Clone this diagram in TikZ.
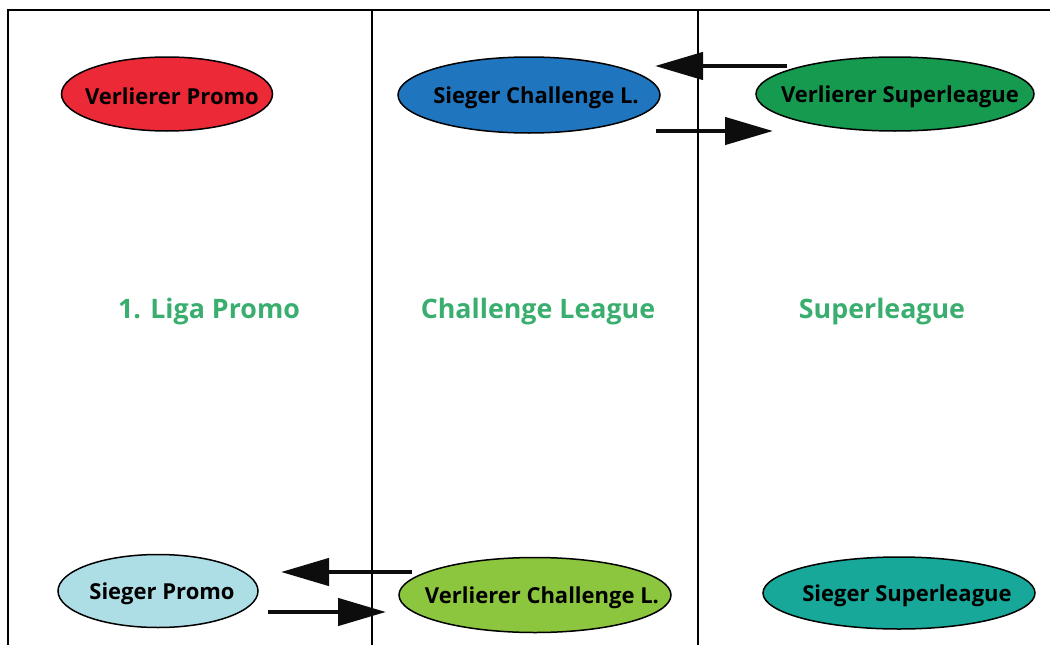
\documentclass[tikz,border=0pt]{standalone}
\usepackage{fontspec}
\setmainfont{Open Sans}
\usetikzlibrary{arrows.meta,shapes.geometric}
\definecolor{cRed}{RGB}{236,41,55}
\definecolor{cBlue}{RGB}{31,117,190}
\definecolor{cGreen}{RGB}{22,154,80}
\definecolor{cLight}{RGB}{173,221,229}
\definecolor{cLime}{RGB}{140,198,63}
\definecolor{cTeal}{RGB}{23,168,154}
\definecolor{cHead}{RGB}{58,174,111}
\tikzset{
  oval/.style={ellipse, draw=black, line width=1.5pt, inner sep=0pt},
  ovaltext/.style={font=\fontsize{22}{26}\selectfont\bfseries, text=black, inner sep=0pt, yshift=-2.5pt},
  heading/.style={font=\fontsize{26.8}{31}\selectfont\bfseries, text=cHead},
  frame/.style={line width=2pt, draw=black},
  bigarrow/.style={line width=4.5pt, -{Triangle[length=48pt,width=27pt]}, color=black!95}
}
\begin{document}
\begin{tikzpicture}[x=1pt,y=-1pt]
\useasboundingbox (0,0) rectangle (1050,645);
% frame
\draw[frame] (8,645) -- (8,10) -- (1050,10);
\draw[frame] (372,10) -- (372,645);
\draw[frame] (698,10) -- (698,645);
% ellipses
\node[oval, fill=cRed, minimum width=211pt, minimum height=74pt,
  label={[ovaltext, xshift=5pt]center:Verlierer Promo}] (vp) at (167,94) {};
\node[oval, fill=cBlue, minimum width=262pt, minimum height=76pt,
  label={[ovaltext, xshift=7pt]center:Sieger Challenge L.}] (scl) at (529,95) {};
\node[oval, fill=cGreen, minimum width=278pt, minimum height=74pt,
  label={[ovaltext, xshift=5pt]center:Verlierer Superleague}] (vsl) at (895,94) {};
\node[oval, fill=cLight, minimum width=200pt, minimum height=73pt,
  label={[ovaltext, xshift=4pt]center:Sieger Promo}] (sp) at (158,591) {};
\node[oval, fill=cLime, minimum width=272pt, minimum height=75pt,
  label={[ovaltext, xshift=7pt]center:Verlierer Challenge L.}] (vcl) at (535,595) {};
\node[oval, fill=cTeal, minimum width=272pt, minimum height=72pt,
  label={[ovaltext, xshift=8pt]center:Sieger Superleague}] (ssl) at (899,593) {};
% headings
\node[heading] (h1) at (209,312) {1. Liga Promo};
\node[heading] (h2) at (538,312) {Challenge League};
\node[heading] (h3) at (882,312) {Superleague};
% arrow coordinates
\coordinate (a1s) at (787,66);
\coordinate (a1e) at (655,66);
\coordinate (a2s) at (656,131);
\coordinate (a2e) at (773,131);
\coordinate (a3s) at (412,572);
\coordinate (a3e) at (281,572);
\coordinate (a4s) at (268,612);
\coordinate (a4e) at (386,612);
\draw[bigarrow] (a1s) -- (a1e);
\draw[bigarrow] (a2s) -- (a2e);
\draw[bigarrow] (a3s) -- (a3e);
\draw[bigarrow] (a4s) -- (a4e);
\end{tikzpicture}
\end{document}
